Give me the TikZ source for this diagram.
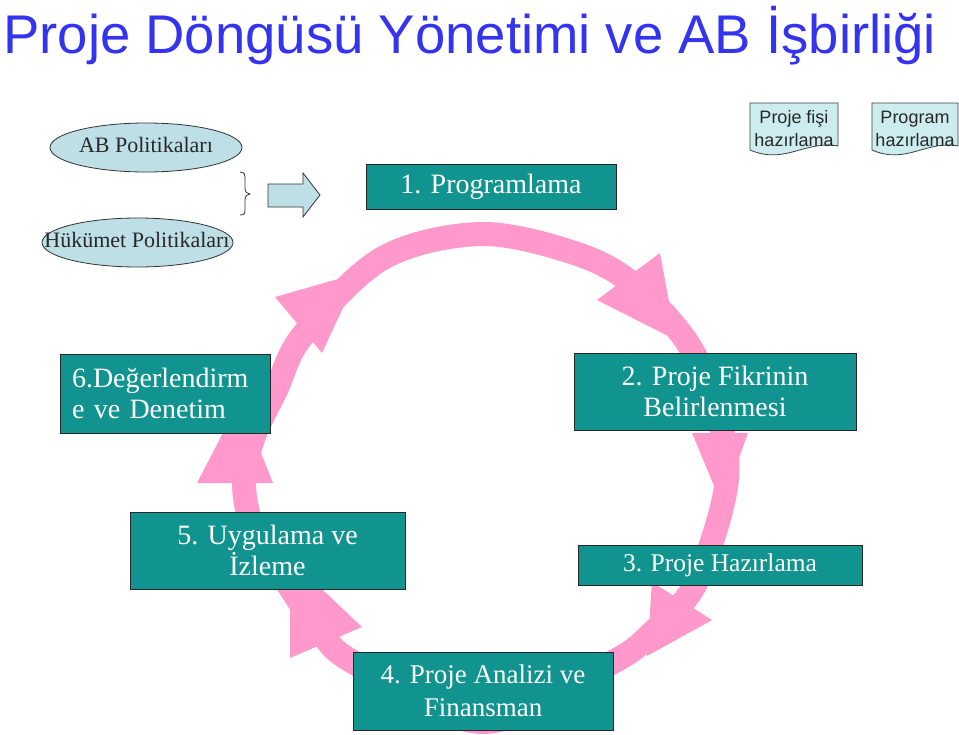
\documentclass[tikz,border=0pt]{standalone}
\usepackage{fontspec}
\setmainfont{Liberation Serif}
\newfontfamily\arialf{Liberation Sans}
\usetikzlibrary{shapes.geometric}
\definecolor{tealc}{RGB}{17,148,144}
\definecolor{pinkc}{RGB}{255,153,204}
\definecolor{lblue}{RGB}{190,223,229}
\definecolor{dblue}{RGB}{204,236,240}
\definecolor{titleblue}{RGB}{51,51,240}
\definecolor{darkt}{RGB}{40,40,40}
\begin{document}
\begin{tikzpicture}[x=1pt,y=-1pt,
  tealbox/.style={draw=black!85, line width=1pt, fill=tealc, text=white, align=center, inner sep=0pt},
  ellbox/.style={ellipse, draw=black!80, line width=0.8pt, fill=lblue, inner sep=0pt},
  elltext/.style={text=darkt, font=\fontsize{22}{24}\selectfont, inner sep=0pt},
  docshape/.style={draw=black!75, line width=0.8pt, fill=dblue},
  doctext/.style={text=darkt, font=\arialf\fontsize{18}{23}\selectfont, align=center, inner sep=0pt},
  ring/.style={draw=pinkc, line width=24pt},
  head/.style={fill=pinkc}
]
\useasboundingbox (0,0) rectangle (959,734);
\fill[white] (0,0) rectangle (959,734);

% title
\node[anchor=base west, text=titleblue, font=\arialf\fontsize{54.5}{60}\selectfont, inner sep=0pt] (title) at (3,53) {Proje Döngüsü Yönetimi ve AB İşbirliği};

% cycle ring
\draw[ring] plot[smooth cycle, tension=0.55] coordinates {
 (483,234) (583,256) (640,290) (692,350) (722,430) (727,478) (715,532)
 (692,590) (655,630) (613,662) (483,722) (353,662) (318,628) (282,575)
 (252,525) (244,480) (254,436) (276,390) (303,335) (383,258)};
% arrow heads
\fill[head] (275,297) -- (359,273) -- (322,353) -- cycle;
\fill[head] (597,300) -- (676,340) -- (660,253) -- cycle;
\fill[head] (692,433) -- (722,505) -- (748,433) -- cycle;
\fill[head] (652,582) -- (647,656) -- (712,620) -- cycle;
\fill[head] (290,658) -- (290,559) -- (362,627) -- cycle;
\fill[head] (197,483) -- (240,400) -- (273,483) -- cycle;

% boxes
\node[tealbox, minimum width=250pt, minimum height=45pt, font=\fontsize{28}{31}\selectfont] (b1) at (491,186.5) {1. Programlama};
\node[tealbox, minimum width=282pt, minimum height=77pt, font=\fontsize{28}{31}\selectfont] (b2) at (715,391.5) {2. Proje Fikrinin\\Belirlenmesi};
\node[tealbox, minimum width=284pt, minimum height=40pt, font=\fontsize{25.5}{29}\selectfont] (b3) at (720,565) {3. Proje Hazırlama};
\node[tealbox, minimum width=260pt, minimum height=78pt, font=\fontsize{27}{33}\selectfont] (b4) at (483,691) {4. Proje Analizi ve\\Finansman};
\node[tealbox, minimum width=275pt, minimum height=77pt, font=\fontsize{28}{31}\selectfont] (b5) at (267.5,550.5) {5. Uygulama ve\\İzleme};
\node[tealbox, minimum width=210pt, minimum height=79pt, text width=186pt, align=left, inner xsep=12pt, font=\fontsize{28}{31}\selectfont] (b6) at (165,393.5) {6.Değerlendirm\\e ve Denetim};

% ellipses
\node[ellbox, minimum width=192pt, minimum height=49pt] (e1) at (146,147.5) {};
\node[elltext] (e1t) at (146,145) {AB Politikaları};
\node[ellbox, minimum width=191pt, minimum height=49pt] (e2) at (137.5,242.5) {};
\node[elltext] (e2t) at (137,240) {Hükümet Politikaları};

% brace
\draw[line width=0.8pt, black!80] (240,172) .. controls (245,172) and (245,175) .. (245,180) -- (245,188)
  .. controls (245,192) and (247,194) .. (250,194) .. controls (247,194) and (245,196) .. (245,200) -- (245,208)
  .. controls (245,213) and (245,215) .. (240,215);

% block arrow
\draw[line width=0.8pt, draw=black!80, fill=lblue] (268,184) -- (303,184) -- (303,173) -- (320,195) -- (303,217) -- (303,207) -- (268,207) -- cycle;

% documents
\draw[docshape] (750,103) -- (838,103) -- (838,146) .. controls (805,140) and (785,165) .. (750,150) -- cycle;
\node[doctext] (d1) at (794,129) {Proje fişi\\hazırlama};
\draw[docshape] (872,103) -- (958,103) -- (958,146) .. controls (926,140) and (906,165) .. (872,150) -- cycle;
\node[doctext] (d2) at (915,129) {Program\\hazırlama};
\end{tikzpicture}
\end{document}
